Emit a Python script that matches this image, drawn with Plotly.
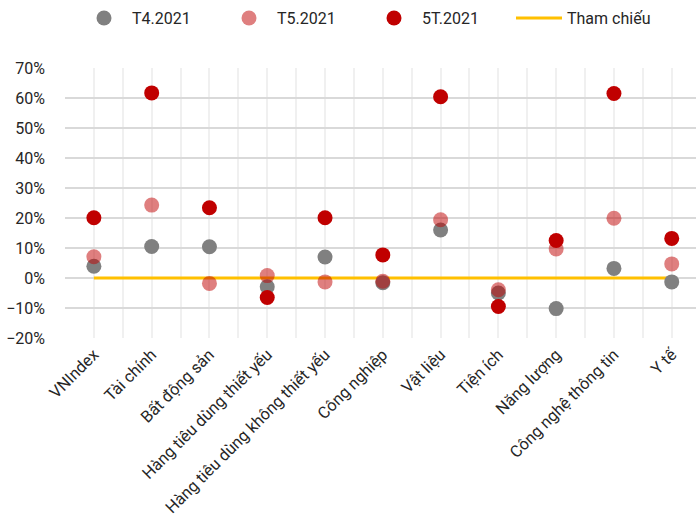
import plotly.graph_objects as go

# Sector returns, 2021
categories = [
    "VNIndex", "Tài chính", "Bất động sản", "Hàng tiêu dùng thiết yếu",
    "Hàng tiêu dùng không thiết yếu", "Công nghiệp", "Vật liệu", "Tiện ích",
    "Năng lượng", "Công nghệ thông tin", "Y tế",
]
t4_2021 = [0.039, 0.105, 0.104, -0.029, 0.070, -0.016, 0.160, -0.050, -0.102, 0.032, -0.013]
t5_2021 = [0.071, 0.243, -0.018, 0.008, -0.013, -0.011, 0.194, -0.039, 0.097, 0.199, 0.047]
ytd_2021 = [0.201, 0.617, 0.234, -0.065, 0.201, 0.077, 0.604, -0.095, 0.125, 0.615, 0.132]
reference = [0.0] * len(categories)

FONT = "Roboto, Liberation Sans, sans-serif"
xs = list(range(len(categories)))

fig = go.Figure()
fig.add_trace(go.Scatter(
    x=xs, y=reference, mode="lines", name="Tham chiếu",
    line=dict(color="#FFC000", width=3), legendrank=4,
))
fig.add_trace(go.Scatter(
    x=xs, y=t4_2021, mode="markers", name="T4.2021",
    marker=dict(color="#808080", size=15, line=dict(width=0)), legendrank=1,
))
fig.add_trace(go.Scatter(
    x=xs, y=t5_2021, mode="markers", name="T5.2021",
    marker=dict(color="#C00000", opacity=0.5, size=15, line=dict(width=0)), legendrank=2,
))
fig.add_trace(go.Scatter(
    x=xs, y=ytd_2021, mode="markers", name="5T.2021",
    marker=dict(color="#C00000", size=15, line=dict(width=0)), legendrank=3,
))

fig.update_layout(
    width=696, height=523,
    margin=dict(l=65, r=0, t=68, b=185),
    paper_bgcolor="white", plot_bgcolor="white",
    font=dict(family=FONT, size=16, color="#262626"),
    showlegend=True,
    legend=dict(
        orientation="h", xref="container", yref="container",
        x=76 / 696, y=0.998, xanchor="left", yanchor="top",
        entrywidth=84, entrywidthmode="pixels",
        font=dict(family=FONT, size=16, color="#262626"),
        itemwidth=46, traceorder="normal",
    ),
    xaxis=dict(
        range=[-0.5, 10.42],
        tickvals=xs, ticktext=categories, tickangle=-45,
        showgrid=True, gridcolor="#F0F0F0", gridwidth=1.5,
        minor=dict(tickvals=[i - 0.5 for i in range(len(categories) + 1)],
                   showgrid=True, gridcolor="#F0F0F0", gridwidth=1.5),
        zeroline=False, showline=False, ticks="",
        automargin=False, ticklabelstandoff=3,
        tickfont=dict(family=FONT, size=16.3, color="#262626"),
    ),
    yaxis=dict(
        range=[-0.2, 0.7], dtick=0.1, tickformat=".0%",
        showgrid=True, gridcolor="#D9D9D9", gridwidth=1.5,
        zeroline=False, showline=False, ticks="",
        automargin=False, ticklabelstandoff=19,
        tickfont=dict(family=FONT, size=16, color="#262626"),
    ),
)

fig.write_html("out.html")
